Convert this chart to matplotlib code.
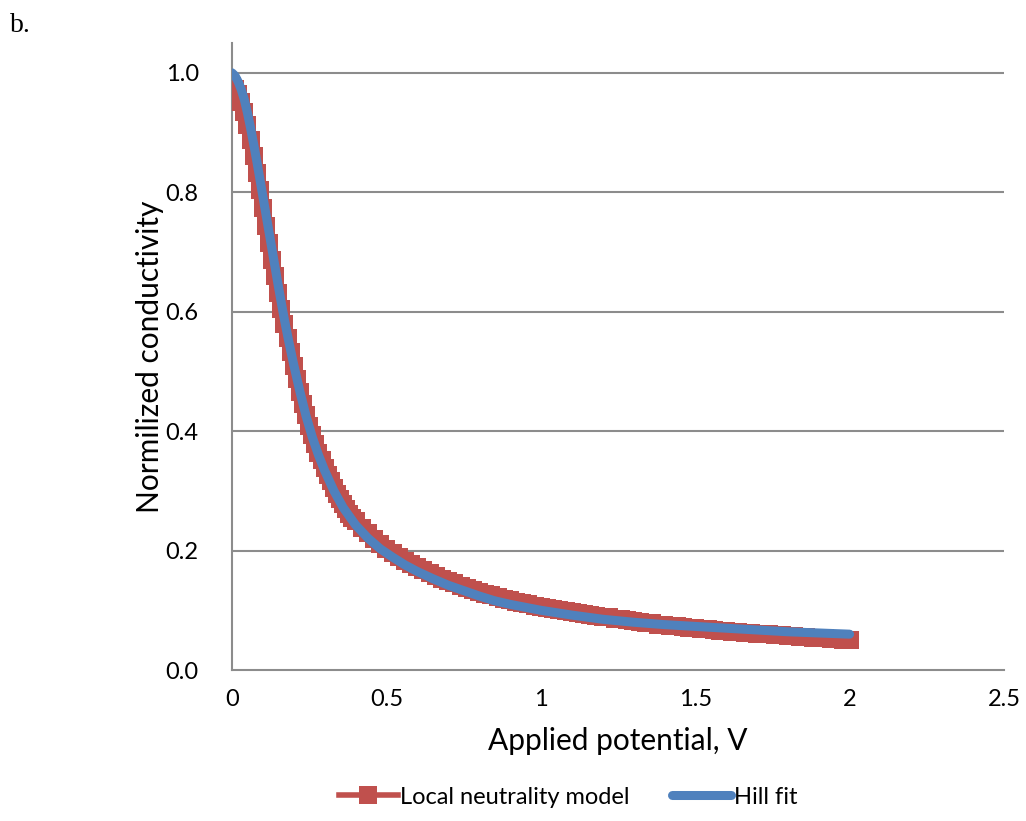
import matplotlib
matplotlib.use("Agg")
import matplotlib.pyplot as plt

# Local neutrality model (red squares)
model_v = [0.00, 0.01, 0.02, 0.03, 0.04, 0.05, 0.06, 0.07, 0.08, 0.09,
           0.10, 0.11, 0.12, 0.13, 0.14, 0.15, 0.16, 0.17, 0.18, 0.19,
           0.20, 0.21, 0.22, 0.23, 0.24, 0.25, 0.26, 0.27, 0.28, 0.29,
           0.30, 0.31, 0.32, 0.33, 0.34, 0.35, 0.36, 0.37, 0.38, 0.39,
           0.40, 0.42, 0.44, 0.46, 0.48, 0.50, 0.52, 0.54, 0.56, 0.58,
           0.60, 0.62, 0.64, 0.66, 0.68, 0.70, 0.72, 0.74, 0.76, 0.78,
           0.80, 0.82, 0.84, 0.86, 0.88, 0.90, 0.92, 0.94, 0.96, 0.98,
           1.00, 1.02, 1.04, 1.06, 1.08, 1.10, 1.12, 1.14, 1.16, 1.18,
           1.20, 1.22, 1.24, 1.26, 1.28, 1.30, 1.32, 1.34, 1.36, 1.38,
           1.40, 1.42, 1.44, 1.46, 1.48, 1.50, 1.52, 1.54, 1.56, 1.58,
           1.60, 1.62, 1.64, 1.66, 1.68, 1.70, 1.72, 1.74, 1.76, 1.78,
           1.80, 1.82, 1.84, 1.86, 1.88, 1.90, 1.92, 1.94, 1.96, 1.98, 2.00]
model_g = [0.978, 0.973, 0.964, 0.951, 0.934, 0.913, 0.888, 0.861, 0.833, 0.803,
           0.774, 0.744, 0.715, 0.687, 0.660, 0.632, 0.604, 0.580, 0.556, 0.532,
           0.509, 0.487, 0.466, 0.446, 0.427, 0.409, 0.393, 0.378, 0.364, 0.351,
           0.339, 0.327, 0.316, 0.305, 0.295, 0.286, 0.278, 0.270, 0.262, 0.255,
           0.249, 0.238, 0.229, 0.220, 0.211, 0.203, 0.196, 0.189, 0.183, 0.177,
           0.172, 0.167, 0.162, 0.157, 0.153, 0.149, 0.145, 0.141, 0.138, 0.134,
           0.131, 0.128, 0.125, 0.122, 0.119, 0.117, 0.114, 0.112, 0.110, 0.108,
           0.106, 0.104, 0.102, 0.100, 0.099, 0.097, 0.095, 0.094, 0.092, 0.091,
           0.089, 0.088, 0.086, 0.085, 0.083, 0.082, 0.080, 0.079, 0.078, 0.076,
           0.075, 0.074, 0.073, 0.072, 0.071, 0.070, 0.069, 0.068, 0.067, 0.066,
           0.065, 0.064, 0.063, 0.0625, 0.062, 0.061, 0.060, 0.0595, 0.059, 0.058,
           0.057, 0.0565, 0.056, 0.055, 0.054, 0.0535, 0.053, 0.052, 0.052, 0.051, 0.050]

# Hill fit (blue line)
hill_v = [0.00, 0.01, 0.02, 0.03, 0.04, 0.05, 0.06, 0.07, 0.08, 0.09,
          0.10, 0.11, 0.12, 0.13, 0.14, 0.15, 0.16, 0.17, 0.18, 0.19,
          0.20, 0.22, 0.24, 0.26, 0.28, 0.30, 0.33, 0.36, 0.40, 0.44,
          0.48, 0.52, 0.56, 0.60, 0.65, 0.70, 0.75, 0.80, 0.85, 0.90,
          1.00, 1.10, 1.20, 1.30, 1.40, 1.50, 1.60, 1.70, 1.80, 1.90, 2.00]
hill_g = [1.000, 0.995, 0.985, 0.972, 0.955, 0.933, 0.908, 0.881, 0.853, 0.823,
          0.793, 0.763, 0.733, 0.703, 0.673, 0.643, 0.614, 0.586, 0.560, 0.535,
          0.511, 0.466, 0.425, 0.390, 0.360, 0.334, 0.300, 0.272, 0.243, 0.221,
          0.203, 0.189, 0.176, 0.165, 0.153, 0.142, 0.133, 0.124, 0.116, 0.110,
          0.100, 0.092, 0.085, 0.080, 0.076, 0.073, 0.070, 0.067, 0.064, 0.062, 0.060]

xticks = [0, 0.5, 1, 1.5, 2, 2.5]
xtick_labels = ["0", "0.5", "1", "1.5", "2", "2.5"]
yticks = [0.0, 0.2, 0.4, 0.6, 0.8, 1.0]

RED = "#C0504D"
BLUE = "#4F81BD"
GRID = "#8C8C8C"

plt.rcParams["font.family"] = ["Lato", "DejaVu Sans"]

fig = plt.figure(figsize=(10.26, 8.21), dpi=100)
ax = fig.add_axes([232 / 1026, 1 - 670 / 821, 772 / 1026, 627 / 821])

ax.plot(model_v, model_g, color=RED, lw=4, marker="s", ms=13, mec=RED, mew=0,
        label="Local neutrality model", zorder=3)
ax.plot(hill_v, hill_g, color=BLUE, lw=6.5, solid_capstyle="round",
        label="Hill fit", zorder=4)

ax.set_xlim(0, 2.5)
ax.set_ylim(0, 1.05)
ax.set_xticks(xticks)
ax.set_xticklabels(xtick_labels)
ax.set_yticks(yticks)
ax.set_yticklabels([f"{v:.1f}" for v in yticks])
ax.tick_params(length=0, labelsize=17, pad=14)
ax.tick_params(axis="y", pad=24)

for y in yticks[1:]:
    ax.axhline(y, xmin=0, xmax=1, color=GRID, lw=1.5, zorder=1)
for side in ("top", "right"):
    ax.spines[side].set_visible(False)
for side in ("left", "bottom"):
    ax.spines[side].set_color(GRID)
    ax.spines[side].set_linewidth(1.5)

ax.set_xlabel("Applied potential, V", fontsize=21.5, labelpad=12)
ax.set_ylabel("Normilized conductivity", fontsize=21.5, labelpad=1)

fig.text(10 / 1026, 1 - 26 / 821, "b.", fontsize=20, family="Liberation Serif",
         va="center", ha="left")

fig.legend(loc="center", bbox_to_anchor=(568 / 1026, 1 - 797 / 821), ncol=2,
           frameon=False, fontsize=17, handlelength=2.5, handletextpad=0.1,
           columnspacing=1.8)

fig.savefig("out.png", dpi=100)
